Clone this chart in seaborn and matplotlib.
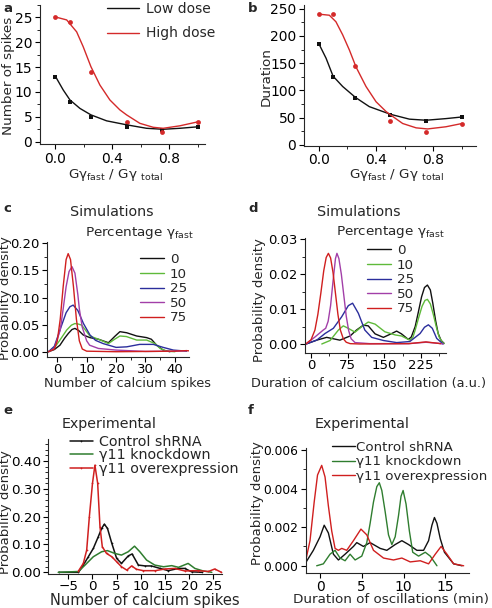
import matplotlib
matplotlib.use('Agg')
import matplotlib.pyplot as plt
import seaborn as sns
from matplotlib.ticker import MultipleLocator, FormatStrFormatter

# ---- panels a / b : simulated spikes and duration vs G fast fraction
frac = [0, 0.1, 0.25, 0.5, 0.75, 1.0]
spikes_low = [13, 8, 5, 3, 2.4, 3]
spikes_high = [25, 24, 14, 4, 2, 4]
dur_low = [186, 124, 86, 55, 43, 51]
dur_high = [240, 240, 145, 44, 24, 39]

# fitted curves as drawn in the figure
fit_a_low_x = [0, 0.056, 0.103, 0.173, 0.25, 0.36, 0.5, 0.64, 0.757, 0.874, 1.0]
fit_a_low_y = [13.2, 10.4, 8.4, 6.7, 5.4, 4.2, 3.4, 2.7, 2.5, 2.7, 3.0]
fit_a_high_x = [0, 0.08, 0.15, 0.196, 0.25, 0.313, 0.383, 0.453, 0.5, 0.593, 0.687, 0.757, 0.874, 1.0]
fit_a_high_y = [25.1, 24.5, 22.1, 19.1, 15.1, 11.4, 8.4, 6.4, 5.4, 3.7, 2.9, 2.7, 3.2, 4.0]
fit_b_low_x = [0, 0.051, 0.1, 0.167, 0.256, 0.353, 0.5, 0.633, 0.749, 0.888, 1.0]
fit_b_low_y = [186, 159, 126, 107, 87, 70, 56, 47, 45, 48, 51]
fit_b_high_x = [0, 0.074, 0.12, 0.167, 0.214, 0.26, 0.33, 0.4, 0.47, 0.5, 0.586, 0.68, 0.76, 0.888, 1.0]
fit_b_high_y = [240, 238, 226, 202, 174, 143, 107, 79, 61, 55, 39, 31, 29, 33, 39]

# ---- panel c : simulated number of spikes, percentage gamma fast
pct_labels = ['0', '10', '25', '50', '75']
c0_x = [-3, -1, 0.9, 2.5, 3.8, 5, 6, 7.3, 8.8, 11.1, 14, 17.4, 19.5, 21.3, 23.6, 27, 30.4, 32, 33.8, 36, 38.3]
c0_y = [0, 0.004, 0.012, 0.025, 0.034, 0.041, 0.043, 0.039, 0.031, 0.026, 0.023, 0.0166, 0.028, 0.037, 0.035, 0.029, 0.026, 0.023, 0.012, 0.003, 0]
c10_x = [-3, -1, 0.9, 3.2, 4.8, 6, 7.2, 8.3, 11.1, 14, 17.4, 19.5, 21.3, 23.5, 27, 30.4, 33.2, 35, 37.2, 40]
c10_y = [0, 0.007, 0.0215, 0.04, 0.049, 0.052, 0.051, 0.049, 0.029, 0.023, 0.015, 0.023, 0.029, 0.028, 0.0215, 0.0215, 0.015, 0.006, 0.001, 0]
c25_x = [-3, -1, 1.1, 3, 4.3, 5.4, 7, 8.9, 11.1, 13, 15.6, 20, 23.6, 28, 32.7, 36, 39.5, 44]
c25_y = [0, 0.01, 0.043, 0.072, 0.083, 0.086, 0.076, 0.052, 0.031, 0.021, 0.015, 0.008, 0.009, 0.0135, 0.0135, 0.008, 0.003, 0.001]
c50_x = [-3, -1, 1, 2, 3, 4, 5, 6, 7, 7.5, 8.5, 10, 11, 14, 20, 30, 40, 44]
c50_y = [0, 0.006, 0.04, 0.079, 0.12, 0.148, 0.157, 0.145, 0.105, 0.079, 0.045, 0.02, 0.012, 0.006, 0.003, 0.0005, 0.001, 0.002]
c75_x = [-3, -1, 0, 1, 2, 3, 3.7, 4.5, 5.5, 6.5, 7.5, 8.5, 10, 20, 40, 44, 46]
c75_y = [0, 0.005, 0.02, 0.06, 0.12, 0.17, 0.181, 0.17, 0.12, 0.06, 0.02, 0.005, 0.001, 0, 0.001, 0.002, 0.001]

# ---- panel d : simulated duration of oscillation
d0_x = [-10, 11.6, 32, 42, 59, 80, 93, 107, 117, 131, 148, 165, 175, 185, 199, 205, 213, 220, 226, 232, 238, 244, 249, 255, 260, 266, 272]
d0_y = [0, 0.0011, 0.0019, 0.0016, 0.0011, 0.0023, 0.004, 0.0054, 0.0052, 0.0029, 0.0019, 0.003, 0.0037, 0.0029, 0.0013, 0.002, 0.005, 0.0095, 0.0135, 0.0162, 0.0169, 0.0155, 0.0117, 0.0065, 0.003, 0.001, 0.0002]
d10_x = [22, 39, 56, 66, 76, 90, 104, 117, 131, 151, 172, 185, 202, 208, 213, 220, 227, 233, 238, 244, 250, 256, 262, 268, 272]
d10_y = [0, 0.001, 0.004, 0.0052, 0.0045, 0.0034, 0.005, 0.0063, 0.0057, 0.0035, 0.0026, 0.0023, 0.0011, 0.0018, 0.004, 0.0075, 0.0108, 0.0125, 0.0128, 0.0115, 0.0085, 0.005, 0.002, 0.0006, 0.0001]
d25_x = [-10, 11.6, 28.6, 45.7, 62.7, 76.3, 85, 96.8, 110, 124, 148, 175, 202, 223, 232, 240, 248, 257, 270]
d25_y = [0, 0.0011, 0.003, 0.0045, 0.0078, 0.011, 0.0117, 0.0088, 0.004, 0.0019, 0.001, 0.0004, 0.0007, 0.003, 0.0048, 0.0055, 0.0045, 0.0016, 0]
d50_x = [-10, 8, 25, 30, 35, 40, 45, 50, 53, 57, 62, 67, 72, 77, 82, 90, 120, 200, 235, 260, 270]
d50_y = [0, 0.002, 0.004, 0.0045, 0.0065, 0.011, 0.018, 0.0245, 0.026, 0.0245, 0.02, 0.014, 0.008, 0.0038, 0.0015, 0.0004, 0.0001, 0.0001, 0.0005, 0.0002, 0]
d75_x = [-10, 0, 8, 14, 20, 26, 31, 35.5, 40, 45, 50, 55, 60, 66, 72, 80, 100, 200, 235, 265]
d75_y = [0.0001, 0.0012, 0.004, 0.0085, 0.0145, 0.021, 0.0248, 0.026, 0.0247, 0.0205, 0.0145, 0.0085, 0.004, 0.0015, 0.0005, 0.0001, 0, 0.0001, 0.0006, 0.0001]

# ---- panel e : experimental number of spikes
exp_labels = ['Control shRNA', '\u03b311 knockdown', '\u03b311 overexpression']
e_ctrl_x = [-7, -2.9, -1.9, -0.86, 0.17, 1.2, 1.9, 2.45, 3.1, 4, 5, 6, 7.4, 8.2, 9.5, 10.9, 12.2, 14, 15.7, 17.8, 19.1, 20.5, 22.6]
e_ctrl_y = [0, 0, 0.026, 0.056, 0.086, 0.128, 0.158, 0.173, 0.158, 0.104, 0.05, 0.032, 0.059, 0.066, 0.026, 0.023, 0.023, 0.014, 0.006, 0.014, 0.014, 0.002, 0]
e_kd_x = [-7.1, -2.9, -1.55, 0.17, 1.9, 3.1, 4.6, 6, 7.4, 8.7, 9.8, 11.2, 12.9, 14.7, 16.4, 17.8, 19.8, 21.2, 22.9, 24.7]
e_kd_y = [0, 0.003, 0.026, 0.056, 0.074, 0.078, 0.068, 0.062, 0.074, 0.094, 0.074, 0.044, 0.026, 0.02, 0.024, 0.018, 0.032, 0.014, 0.005, 0]
e_oe_x = [-2.9, -1.9, -1.2, -0.65, 0, 0.5, 1.07, 1.55, 2.03, 2.9, 4, 5, 6, 7.1, 8.1, 9.1, 10.5, 13, 15, 17, 19.1, 21.9, 24, 25.3, 26.7]
e_oe_y = [0.005, 0.032, 0.08, 0.2, 0.32, 0.385, 0.32, 0.164, 0.092, 0.068, 0.056, 0.038, 0.02, 0.008, 0.023, 0.011, 0.006, 0.006, 0.012, 0.014, 0.005, 0.006, 0.003, 0.012, 0]

# ---- panel f : experimental duration of oscillations
f_ctrl_x = [-1.8, -0.8, 0, 0.5, 1, 1.6, 2.2, 3, 4, 4.4, 5.2, 6, 7.2, 8, 9, 9.8, 10.6, 11.6, 12.4, 13, 13.4, 13.7, 14, 14.4, 14.9, 16, 17]
f_ctrl_y = [0.0001, 0.0008, 0.0015, 0.0021, 0.0017, 0.0006, 0.0003, 0.0006, 0.001, 0.0012, 0.001, 0.0012, 0.0009, 0.0008, 0.0011, 0.0013, 0.0011, 0.0008, 0.0008, 0.0013, 0.0021, 0.0025, 0.0022, 0.0014, 0.0007, 0.0001, 0]
f_kd_x = [-0.4, 0.4, 1.2, 1.8, 2.4, 3, 3.6, 4.2, 5, 5.6, 6, 6.4, 6.8, 7.1, 7.4, 7.8, 8.2, 8.6, 9, 9.4, 9.7, 9.95, 10.3, 10.7, 11.1, 11.8, 12.6, 13.2, 14]
f_kd_y = [0, 0.0001, 0.0006, 0.0008, 0.0004, 0.00026, 0.0006, 0.0003, 0.0005, 0.0012, 0.0022, 0.0033, 0.0041, 0.0043, 0.0039, 0.0028, 0.0016, 0.0011, 0.0015, 0.0026, 0.0036, 0.0039, 0.0032, 0.0018, 0.0007, 0.0005, 0.0007, 0.0005, 0]
f_oe_x = [-1.8, -1.2, -0.7, -0.3, 0.2, 0.6, 1, 1.4, 1.8, 2.2, 2.6, 3.2, 4, 4.9, 5.6, 6.4, 7.6, 8.8, 9.8, 10.8, 12, 13, 13.8, 14.5, 15.2, 16, 17.2]
f_oe_y = [0.0001, 0.0013, 0.0033, 0.0047, 0.0052, 0.0046, 0.0031, 0.0018, 0.0009, 0.0008, 0.0009, 0.0008, 0.0013, 0.0019, 0.0016, 0.0008, 0.0004, 0.0003, 0.0004, 0.0002, 0.00026, 0.0001, 0.0006, 0.001, 0.0006, 0.0001, 0]

sns.set_style('ticks')
plt.rcParams['font.family'] = ['DejaVu Sans']
plt.rcParams['mathtext.fontset'] = 'dejavusans'
plt.rcParams['axes.linewidth'] = 0.8
plt.rcParams['xtick.major.width'] = 0.8
plt.rcParams['ytick.major.width'] = 0.8
plt.rcParams['xtick.minor.width'] = 0.7
plt.rcParams['ytick.minor.width'] = 0.7
plt.rcParams['xtick.major.size'] = 3.5
plt.rcParams['ytick.major.size'] = 3.5
plt.rcParams['xtick.minor.size'] = 2
plt.rcParams['ytick.minor.size'] = 2
plt.rcParams['xtick.direction'] = 'out'
plt.rcParams['ytick.direction'] = 'out'

W, H = 492, 608
fig = plt.figure(figsize=(W / 100, H / 100), dpi=100)


def box(l, r, t, b):
    return [l / W, 1 - b / H, (r - l) / W, (b - t) / H]


def ftext(x, y, s, **kw):
    fig.text(x / W, 1 - y / H, s, **kw)


def style_ax(ax, fs=10):
    sns.despine(ax=ax)
    ax.tick_params(labelsize=fs, pad=2, colors='black')
    ax.set_xlabel('')
    ax.set_ylabel('')


BLK = '#111111'
RED = '#d42a2a'
GRN_LT = '#5fba3a'
GRN_DK = '#2f7d2f'
BLU = '#2b2e9c'
PUR = '#a23fa8'
RED2 = '#d01f1f'

# ---------------- a
ax = fig.add_axes(box(40, 205, 5, 144))
sns.lineplot(x=fit_a_low_x, y=fit_a_low_y, ax=ax, color=BLK, lw=1.0, label='Low dose')
sns.lineplot(x=fit_a_high_x, y=fit_a_high_y, ax=ax, color=RED, lw=1.0, label='High dose')
sns.scatterplot(x=frac, y=spikes_low, ax=ax, color=BLK, marker='s', s=10, linewidth=0)
sns.scatterplot(x=frac, y=spikes_high, ax=ax, color=RED, marker='o', s=12, linewidth=0)
ax.set_xlim(-0.107, 1.05)
ax.set_ylim(-0.46, 27.5)
ax.xaxis.set_major_locator(MultipleLocator(0.4))
ax.xaxis.set_minor_locator(MultipleLocator(0.2))
ax.xaxis.set_major_formatter(FormatStrFormatter('%.1f'))
ax.yaxis.set_major_locator(MultipleLocator(5))
ax.yaxis.set_minor_locator(MultipleLocator(2.5))
style_ax(ax)
ax.legend(loc='upper left', bbox_to_anchor=(107 / W, 1 - 2 / H), bbox_transform=fig.transFigure,
          frameon=False, fontsize=10, handlelength=2.3, handletextpad=0.5, labelspacing=0.75,
          borderpad=0, borderaxespad=0)
ftext(9, 76, 'Number of spikes', rotation=90, ha='center', va='center', fontsize=9.7)
ftext(116, 175, 'G\u03b3$_{\\rm fast}$ / G\u03b3 $_{\\rm total}$', ha='center', va='center', fontsize=9.7)

# ---------------- b
ax = fig.add_axes(box(304, 476, 5, 145.7))
sns.lineplot(x=fit_b_low_x, y=fit_b_low_y, ax=ax, color=BLK, lw=1.0)
sns.lineplot(x=fit_b_high_x, y=fit_b_high_y, ax=ax, color=RED, lw=1.0)
sns.scatterplot(x=frac, y=dur_low, ax=ax, color=BLK, marker='s', s=10, linewidth=0)
sns.scatterplot(x=frac, y=dur_high, ax=ax, color=RED, marker='o', s=12, linewidth=0)
ax.set_xlim(-0.103, 1.098)
ax.set_ylim(-1.8, 256.8)
ax.xaxis.set_major_locator(MultipleLocator(0.4))
ax.xaxis.set_minor_locator(MultipleLocator(0.2))
ax.xaxis.set_major_formatter(FormatStrFormatter('%.1f'))
ax.yaxis.set_major_locator(MultipleLocator(50))
ax.yaxis.set_minor_locator(MultipleLocator(25))
style_ax(ax)
ftext(266, 77, 'Duration', rotation=90, ha='center', va='center', fontsize=9.7)
ftext(397, 175, 'G\u03b3$_{\\rm fast}$ / G\u03b3 $_{\\rm total}$', ha='center', va='center', fontsize=9.7)

# ---------------- c
ax = fig.add_axes(box(47, 189, 241.7, 356.7))
c_curves = [(c0_x, c0_y, BLK), (c10_x, c10_y, GRN_LT), (c25_x, c25_y, BLU),
            (c50_x, c50_y, PUR), (c75_x, c75_y, RED2)]
for (xs, ys, col), lab in zip(c_curves, pct_labels):
    sns.lineplot(x=xs, y=ys, ax=ax, color=col, lw=1.0, label=lab)
ax.set_xlim(-3.5, 44.8)
ax.set_ylim(-0.0092, 0.203)
ax.xaxis.set_major_locator(MultipleLocator(10))
ax.xaxis.set_minor_locator(MultipleLocator(5))
ax.yaxis.set_major_locator(MultipleLocator(0.05))
ax.yaxis.set_minor_locator(MultipleLocator(0.025))
ax.yaxis.set_major_formatter(FormatStrFormatter('%.2f'))
style_ax(ax, fs=9.5)
ax.tick_params(axis='x', pad=1)
ax.legend(loc='upper left', bbox_to_anchor=(140 / W, 1 - 253 / H), bbox_transform=fig.transFigure,
          frameon=False, fontsize=9.7, handlelength=1.8, handletextpad=0.4, labelspacing=0.12,
          borderpad=0, borderaxespad=0)
ftext(112, 212, 'Simulations', ha='center', va='center', fontsize=10.3)
ftext(85, 233, 'Percentage \u03b3$_{\\rm fast}$', ha='left', va='center', fontsize=9.7)
ftext(5.5, 298, 'Probability density', rotation=90, ha='center', va='center', fontsize=9.5)
ftext(128, 384, 'Number of calcium spikes', ha='center', va='center', fontsize=9.3)

# ---------------- d
ax = fig.add_axes(box(305.3, 446, 238, 352.7))
d_curves = [(d0_x, d0_y, BLK), (d10_x, d10_y, GRN_LT), (d25_x, d25_y, BLU),
            (d50_x, d50_y, PUR), (d75_x, d75_y, RED2)]
for (xs, ys, col), lab in zip(d_curves, pct_labels):
    sns.lineplot(x=xs, y=ys, ax=ax, color=col, lw=1.0, label=lab)
ax.set_xlim(-11.7, 276)
ax.set_ylim(-0.0025, 0.0304)
ax.xaxis.set_major_locator(MultipleLocator(75))
ax.xaxis.set_minor_locator(MultipleLocator(37.5))
ax.yaxis.set_major_locator(MultipleLocator(0.01))
ax.yaxis.set_minor_locator(MultipleLocator(0.005))
ax.yaxis.set_major_formatter(FormatStrFormatter('%.2f'))
style_ax(ax, fs=9.5)
ax.tick_params(axis='x', pad=1)
ax.legend(loc='upper left', bbox_to_anchor=(367 / W, 1 - 244 / H), bbox_transform=fig.transFigure,
          frameon=False, fontsize=9.7, handlelength=1.8, handletextpad=0.4, labelspacing=0.12,
          borderpad=0, borderaxespad=0)
ftext(359, 212, 'Simulations', ha='center', va='center', fontsize=10.3)
ftext(336, 232, 'Percentage \u03b3$_{\\rm fast}$', ha='left', va='center', fontsize=9.7)
ftext(260, 300, 'Probability density', rotation=90, ha='center', va='center', fontsize=9.5)
ftext(369, 383, 'Duration of calcium oscillation (a.u.)', ha='center', va='center', fontsize=9.3)

# ---------------- e
ax = fig.add_axes(box(48.3, 221.7, 439, 574))
sns.lineplot(x=e_ctrl_x, y=e_ctrl_y, ax=ax, color=BLK, lw=1.1, marker='.', ms=2.5, mew=0, label=exp_labels[0])
sns.lineplot(x=e_kd_x, y=e_kd_y, ax=ax, color=GRN_DK, lw=1.1, label=exp_labels[1])
sns.lineplot(x=e_oe_x, y=e_oe_y, ax=ax, color=RED2, lw=1.1, marker='.', ms=2.5, mew=0, label=exp_labels[2])
ax.set_xlim(-9.15, 26.75)
ax.set_ylim(-0.006, 0.479)
ax.xaxis.set_major_locator(MultipleLocator(5))
ax.yaxis.set_major_locator(MultipleLocator(0.1))
ax.yaxis.set_minor_locator(MultipleLocator(0.02))
ax.yaxis.set_major_formatter(FormatStrFormatter('%.2f'))
style_ax(ax, fs=9.7)
ax.tick_params(axis='x', pad=1)
ax.legend(loc='upper left', bbox_to_anchor=(70 / W, 1 - 435 / H), bbox_transform=fig.transFigure,
          frameon=False, fontsize=10.3, handlelength=1.6, handletextpad=0.4, labelspacing=-0.05,
          borderpad=0, borderaxespad=0)
ftext(109, 424, 'Experimental', ha='center', va='center', fontsize=10.3)
ftext(5.5, 512, 'Probability density', rotation=90, ha='center', va='center', fontsize=9.5)
ftext(145, 600, 'Number of calcium spikes', ha='center', va='center', fontsize=10.5)

# ---------------- f
ax = fig.add_axes(box(306, 469, 448, 573.3))
sns.lineplot(x=f_ctrl_x, y=f_ctrl_y, ax=ax, color=BLK, lw=1.0, label=exp_labels[0])
sns.lineplot(x=f_kd_x, y=f_kd_y, ax=ax, color=GRN_DK, lw=1.0, label=exp_labels[1])
sns.lineplot(x=f_oe_x, y=f_oe_y, ax=ax, color=RED2, lw=1.0, label=exp_labels[2])
ax.set_xlim(-1.68, 17.84)
ax.set_ylim(-0.00039, 0.0061)
ax.xaxis.set_major_locator(MultipleLocator(5))
ax.yaxis.set_major_locator(MultipleLocator(0.002))
ax.yaxis.set_minor_locator(MultipleLocator(0.001))
ax.yaxis.set_major_formatter(FormatStrFormatter('%.3f'))
style_ax(ax)
ax.tick_params(axis='y', labelsize=8.8)
ax.tick_params(axis='x', pad=1)
ax.legend(loc='upper left', bbox_to_anchor=(332 / W, 1 - 441 / H), bbox_transform=fig.transFigure,
          frameon=False, fontsize=9.6, handlelength=1.7, handletextpad=0.1, labelspacing=0.1,
          borderpad=0, borderaxespad=0)
ftext(362, 424, 'Experimental', ha='center', va='center', fontsize=10.3)
ftext(258, 503, 'Probability density', rotation=90, ha='center', va='center', fontsize=9.5)
ftext(391, 599, 'Duration of oscillations (min)', ha='center', va='center', fontsize=9.7)

# panel letters
for (x, y, s) in [(3, 9, 'a'), (248, 9, 'b'), (3, 208, 'c'), (248, 208, 'd'), (3, 411, 'e'), (248, 411, 'f')]:
    ftext(x, y, s, ha='left', va='center', fontsize=9.5, fontweight='bold')

fig.savefig('out.png', dpi=100)
